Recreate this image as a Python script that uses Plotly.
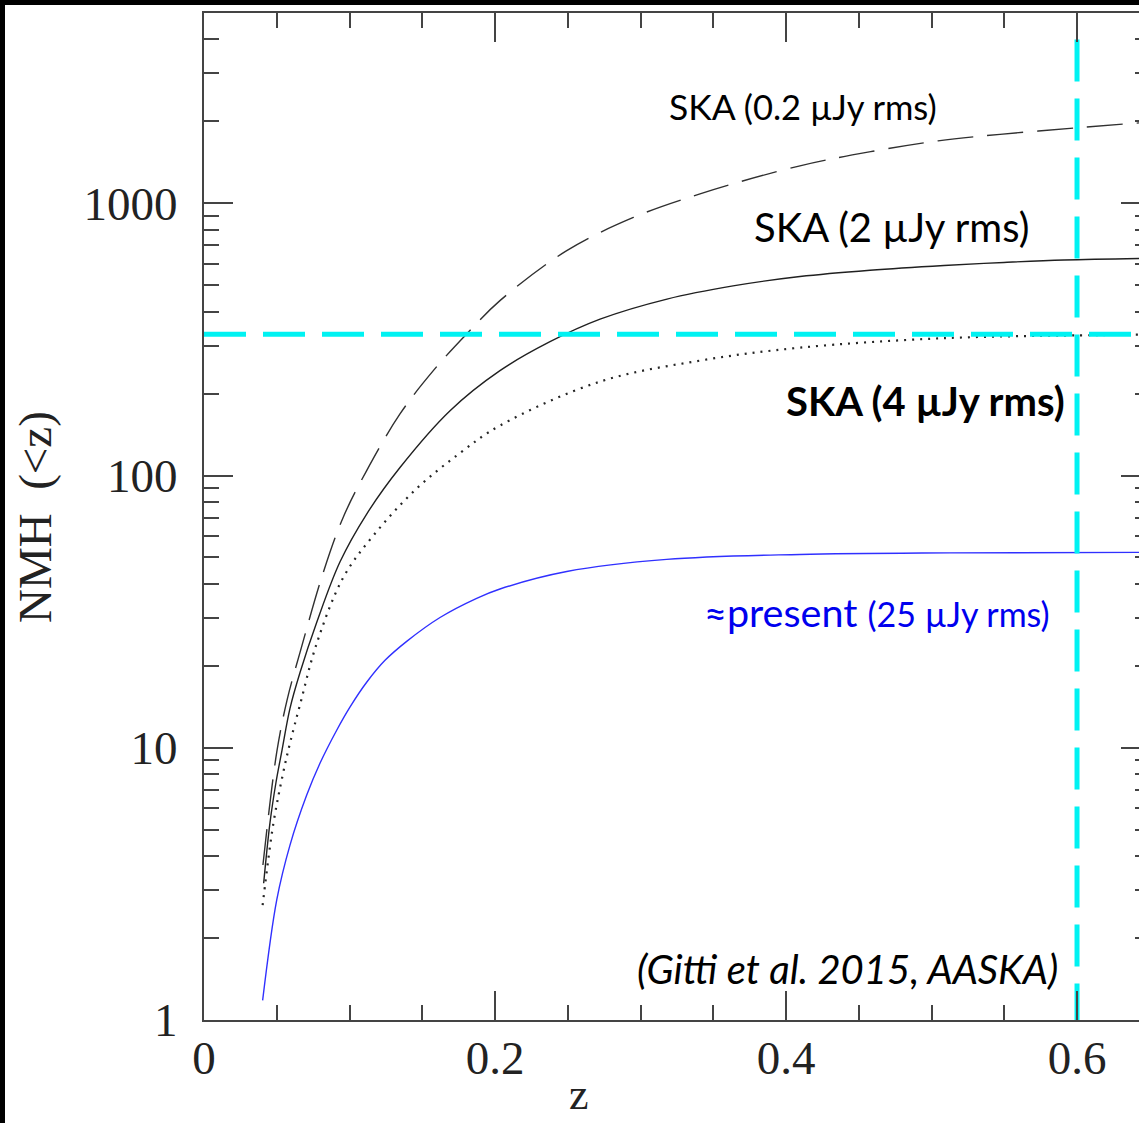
import plotly.graph_objects as go

# ---------------- data ----------------
z_present = [0.0403, 0.0500, 0.0591, 0.0706, 0.0797, 0.0912, 0.1003, 0.1118, 0.1244, 0.1393,
             0.1622, 0.1874, 0.2034, 0.2493, 0.3180, 0.4096, 0.5127, 0.6426]
n_present = [1.18, 2.76, 4.39, 6.70, 8.77, 11.6, 14.1, 17.4, 20.95, 24.6,
             30.1, 35.4, 38.3, 44.4, 49.2, 51.3, 52.0, 52.2]

z_ska2 = [0.0410, 0.0454, 0.0495, 0.0536, 0.0591, 0.0660, 0.0775, 0.0935, 0.1118, 0.1347,
          0.1691, 0.2034, 0.2378, 0.2722, 0.3182, 0.3636, 0.4096, 0.4577, 0.5086, 0.5498,
          0.5911, 0.6426]
n_ska2 = [3.18, 5.33, 7.47, 9.79, 13.96, 18.9, 28.9, 48.2, 72.2, 107.0,
          173, 242.8, 310.1, 375.3, 444.8, 497.2, 538.3, 567.8, 591.2, 606.3,
          618.8, 626.9]

z_ska02 = [0.0405, 0.0500, 0.0570, 0.0660, 0.0820, 0.0957, 0.1118, 0.1347, 0.1576, 0.1805,
           0.2034, 0.2493, 0.2951, 0.3409, 0.4096, 0.4612, 0.5045, 0.5471, 0.6000, 0.6426]
n_ska02 = [3.71, 9.63, 14.9, 22.4, 44.1, 70.3, 104.3, 168.4, 242.8, 331,
           439, 670, 887, 1083, 1373, 1558, 1696, 1792, 1893, 1974]

z_ska4 = [0.0403, 0.0476, 0.0545, 0.0591, 0.0660, 0.0775, 0.0957, 0.1164, 0.1462, 0.1759,
          0.2034, 0.2722, 0.3409, 0.4096, 0.5086, 0.6124, 0.6426]
n_ska4 = [2.64, 5.24, 8.13, 10.4, 14.4, 24.2, 42.2, 60.2, 89.6, 120.9,
          152.6, 221.3, 264.3, 294.9, 319.6, 327.8, 329.2]

# reference (cyan) lines
z_limit = 0.6
n_limit = 330
n_vline = [4000, 1]
z_hline = [0.0, 0.6426]

x_range = [0, 0.6426]
y_range_log = [0, 3.699]

y_major = [1, 10, 100, 1000]
y_major_text = ["1", "10", "100", "1000"]
y_minor = [m * d for d in (1, 10, 100, 1000) for m in range(2, 10)]
x_major = [0, 0.2, 0.4, 0.6]
x_major_text = ["0", "0.2", "0.4", "0.6"]

# ---------------- figure ----------------
W, H = 1139, 1123
L, R, T, B = 204, 0, 13, 103
pw, ph = W - L - R, H - T - B


def px(xp):
    return (xp - L) / pw


def py(yp):
    return (H - B - yp) / ph


fig = go.Figure()

fig.add_trace(go.Scatter(x=z_present, y=n_present, mode="lines", line_shape="spline",
                         line=dict(color="#3030ff", width=1.4)))
fig.add_trace(go.Scatter(x=z_ska02, y=n_ska02, mode="lines", line_shape="spline",
                         line=dict(color="#303030", width=1.4, dash="36px,14px")))
fig.add_trace(go.Scatter(x=z_ska2, y=n_ska2, mode="lines", line_shape="spline",
                         line=dict(color="#202020", width=1.4)))
fig.add_trace(go.Scatter(x=z_ska4, y=n_ska4, mode="lines", line_shape="spline",
                         line=dict(color="#252525", width=2.2, dash="2px,6px")))

fig.add_trace(go.Scatter(x=z_hline, y=[n_limit, n_limit], mode="lines", yaxis="y2",
                         line=dict(color="#00f2f2", width=5, dash="42px,17px")))
fig.add_trace(go.Scatter(x=[z_limit, z_limit], y=n_vline, mode="lines",
                         line=dict(color="#00f2f2", width=5, dash="42px,17px")))

axis_col = "#444444"
serif = "Liberation Serif"
tick_font = dict(family=serif, size=47, color="#222")

fig.update_layout(
    width=W, height=H,
    margin=dict(l=L, r=R, t=T, b=B),
    paper_bgcolor="white", plot_bgcolor="white",
    showlegend=False,
    xaxis=dict(
        range=x_range, showgrid=False, zeroline=False,
        showline=True, linecolor=axis_col, linewidth=2, mirror="ticks",
        ticks="inside", ticklen=29, tickwidth=1.8, tickcolor=axis_col,
        tickvals=x_major, ticktext=x_major_text,
        tickfont=tick_font,
        ticklabelstandoff=-4,
        minor=dict(dtick=0.05, tick0=0, ticks="inside", ticklen=15,
                   tickwidth=1.8, tickcolor=axis_col, showgrid=False),
    ),
    yaxis=dict(
        type="log", range=y_range_log, showgrid=False, zeroline=False,
        showline=True, linecolor=axis_col, linewidth=2, mirror=False,
        ticks="inside", ticklen=29, tickwidth=1.8, tickcolor=axis_col,
        tickvals=y_major, ticktext=y_major_text,
        tickfont=tick_font,
        ticklabelstandoff=15,
        minor=dict(tickvals=y_minor, ticks="inside", ticklen=15,
                   tickwidth=1.8, tickcolor=axis_col, showgrid=False),
    ),
    yaxis2=dict(
        type="log", range=y_range_log, overlaying="y", side="right",
        showgrid=False, zeroline=False, showline=False, showticklabels=False,
        ticks="inside", ticklen=18, tickwidth=1.8, tickcolor=axis_col,
        tickvals=y_major,
        minor=dict(tickvals=y_minor, ticks="inside", ticklen=4,
                   tickwidth=1.8, tickcolor=axis_col, showgrid=False),
    ),
)

# black frame bands (left and top edge of the picture)
fig.add_shape(type="rect", xref="paper", yref="paper",
              x0=px(0), x1=px(5), y0=py(H), y1=py(0),
              fillcolor="black", line_width=0, layer="above")
fig.add_shape(type="rect", xref="paper", yref="paper",
              x0=px(0), x1=px(W), y0=py(5), y1=py(0),
              fillcolor="black", line_width=0, layer="above")

sans = "Lato"
ann = []
ann.append(dict(x=px(939), y=py(107), xanchor="right", yanchor="middle",
                text='SKA <span style="font-size:34.5px">(0.2 µJy rms)</span>',
                font=dict(family=sans, size=35.5, color="black")))
ann.append(dict(x=px(1031), y=py(227), xanchor="right", yanchor="middle",
                text="SKA (2 µJy rms)",
                font=dict(family=sans, size=40, color="black")))
ann.append(dict(x=px(1067), y=py(401), xanchor="right", yanchor="middle",
                text="<b>SKA (4 µJy rms)</b>",
                font=dict(family=sans, size=40, color="black")))
ann.append(dict(x=px(1052), y=py(611), xanchor="right", yanchor="middle",
                text='≈present <span style="font-size:34px">(25 µJy rms)</span>',
                font=dict(family=sans, size=39.5, color="#0000ee")))
ann.append(dict(x=px(1060), y=py(969), xanchor="right", yanchor="middle",
                text="<i>(Gitti et al. 2015, AASKA)</i>",
                font=dict(family=sans, size=40, color="black")))
ann.append(dict(x=px(35), y=py(517), xanchor="center", yanchor="middle",
                text="NMH&nbsp;&nbsp;(&lt;z)", textangle=-90,
                font=dict(family=serif, size=47, color="#222")))
ann.append(dict(x=px(579), y=py(1121), xanchor="center", yanchor="bottom",
                text="z", font=dict(family=serif, size=44, color="#222")))
for a in ann:
    a.update(xref="paper", yref="paper", showarrow=False)
fig.update_layout(annotations=ann)

fig.write_html("out.html")
